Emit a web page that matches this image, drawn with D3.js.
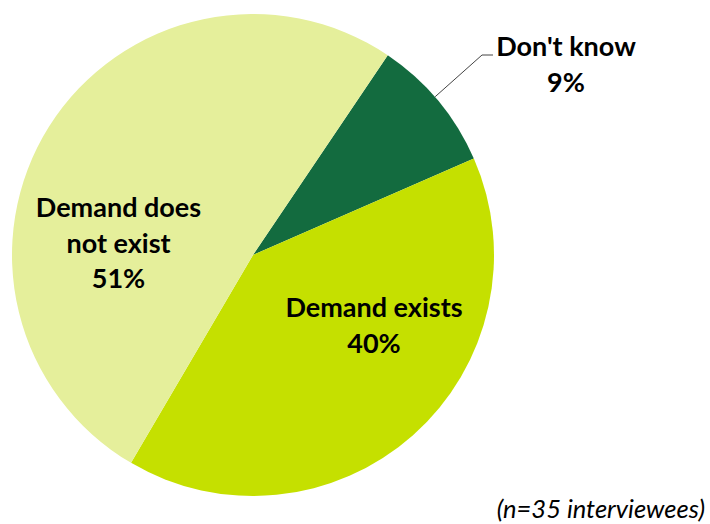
<!DOCTYPE html>
<html><head><meta charset="utf-8">
<script src="https://cdn.jsdelivr.net/npm/d3@7"></script>
<style>body{margin:0;background:#fff}text{font-family:Lato,"Open Sans",sans-serif}</style>
</head><body><svg id="c" width="710" height="524"></svg>
<script>
const categories = ["Don't know", "Demand exists", "Demand does not exist"];
const values = [9, 40, 51];
const colors = ["#136B3F", "#C5E000", "#E5EF9B"];
const labelLines = [["Don't know", "9%"], ["Demand exists", "40%"], ["Demand does", "not exist", "51%"]];
const note = "(n=35 interviewees)";

const svg = d3.select("#c");
const cx = 253, cy = 255, r = 241;
const startA = 34 * Math.PI / 180;
const pie = d3.pie().sort(null).startAngle(startA).endAngle(startA + 2 * Math.PI);
const arcs = pie(values);
const arc = d3.arc().innerRadius(0).outerRadius(r);
const g = svg.append("g").attr("transform", `translate(${cx},${cy})`);
g.selectAll("path").data(arcs).enter().append("path")
  .attr("d", arc).attr("fill", (d, i) => colors[i]);

// label positions (absolute, first baseline)
const labelPos = [[566, 56], [374, 317], [118.5, 217]];
const lh = [36, 36, 35.5];
arcs.forEach((a, i) => {
  const [x, y] = labelPos[i];
  const t = svg.append("text").attr("text-anchor", "middle").attr("font-size", 27).attr("font-weight", 700).attr("fill", "#000");
  labelLines[i].forEach((s, k) => {
    t.append("tspan").attr("x", x).attr("y", y + k * lh[i]).text(s);
  });
});

// leader line for Don't know
const mid = (arcs[0].startAngle + arcs[0].endAngle) / 2;
const ax = cx + Math.sin(mid) * r, ay = cy - Math.cos(mid) * r;
svg.append("polyline")
  .attr("points", `${ax - 3},${ay - 4} 482,55 493,55`)
  .attr("fill", "none").attr("stroke", "#444").attr("stroke-width", 1);

svg.append("text").attr("x", 705).attr("y", 518).attr("text-anchor", "end")
  .attr("font-size", 25.5).attr("font-style", "italic").attr("fill", "#000").text(note);
</script></body></html>
